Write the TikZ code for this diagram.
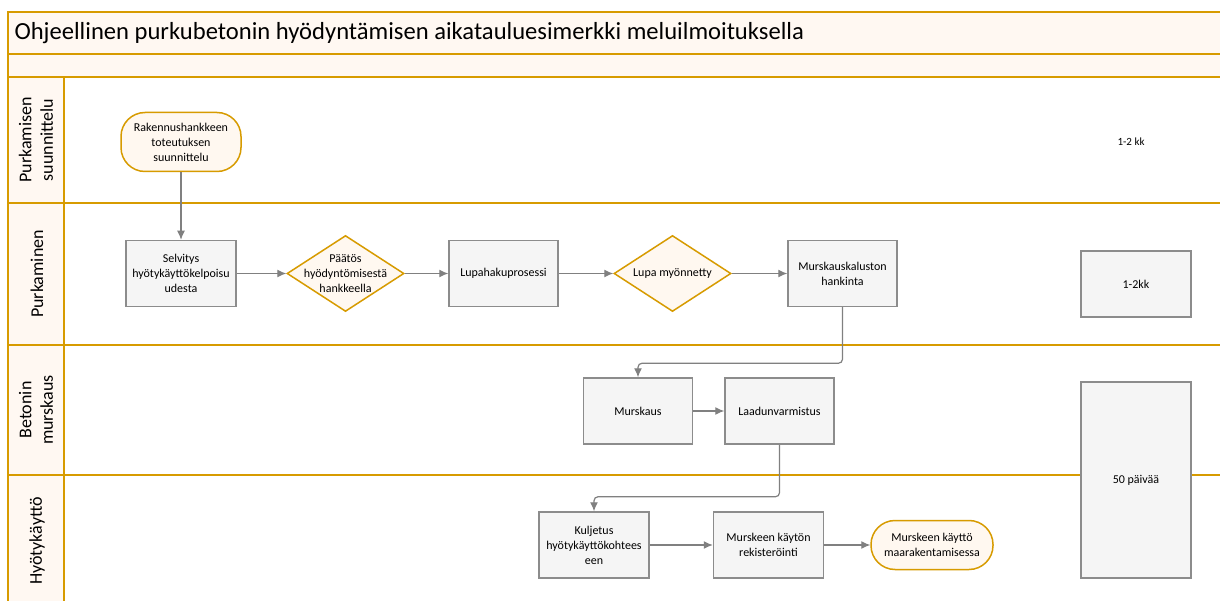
\documentclass[tikz,border=0pt]{standalone}
\usepackage{fontspec}
\setmainfont{Carlito}
\usepackage{tikz}
\usetikzlibrary{shapes.geometric}
\usetikzlibrary{positioning}
\usetikzlibrary{calc}
\usetikzlibrary{arrows.meta}
\definecolor{lanegold}{HTML}{D79B00}
\definecolor{lanefill}{HTML}{FFF8F2}
\definecolor{termfill}{HTML}{FFF8F0}
\definecolor{boxgray}{HTML}{8C8C8C}
\definecolor{boxfill}{HTML}{F5F5F5}
\definecolor{linegray}{HTML}{808080}
\begin{document}
\begin{tikzpicture}
			[
				x = 1pt, y = -1pt,
				mylane/.style = {draw = lanegold, line width = 1.5pt, fill = lanefill},
				mylanelabel/.style = {rotate = 90, align = center, font = \fontsize{18}{21.6}\selectfont},
				myblock/.style = {draw = boxgray, fill = boxfill, rectangle, line width = 1.5pt, minimum height = 66pt, minimum width = 110pt, inner sep = 1pt, align = center, font = \fontsize{12}{15}\selectfont},
				mydecision/.style = {draw = lanegold, fill = termfill, diamond, line width = 1.5pt, minimum height = 76pt, minimum width = 117pt, inner sep = 0pt},
				mydecisiontext/.style = {align = center, font = \fontsize{12}{15}\selectfont},
				myterminal/.style = {draw = lanegold, fill = termfill, rectangle, rounded corners = 24pt, line width = 1.5pt, inner sep = 1pt, align = center, font = \fontsize{12}{15}\selectfont},
				myvariable/.style = {font = \fontsize{11}{13}\selectfont},
				myarrow/.style = {rounded corners = 4pt, -{Latex[length = 9pt, width = 8pt]}, line width = 1.2pt, draw = linegray}
			]
			%
			\useasboundingbox (0,0) rectangle (1220,601);
			\begin{scope}
			\clip (0,0) rectangle (1220,601);
			%
			\draw [mylane] (8,12) rectangle (1240,54);
			\draw [mylane] (8,54) rectangle (1240,77);
			\node (title) [anchor = west, font = \fontsize{24.6}{28}\selectfont] at (11,33) {Ohjeellinen purkubetonin hyödyntämisen aikatauluesimerkki meluilmoituksella};
			%
			\draw [mylane, fill = white] (8,77) rectangle (1240,203);
			\draw [mylane] (8,77) rectangle (64,203);
			\draw [mylane, fill = white] (8,203) rectangle (1240,345);
			\draw [mylane] (8,203) rectangle (64,345);
			\draw [mylane, fill = white] (8,345) rectangle (1240,475);
			\draw [mylane] (8,345) rectangle (64,475);
			\draw [mylane, fill = white] (8,475) rectangle (1240,607);
			\draw [mylane] (8,475) rectangle (64,607);
			%
			\node (lane1) [mylanelabel] at (36,140) {Purkamisen\\suunnittelu};
			\node (lane2) [mylanelabel] at (37,274) {Purkaminen};
			\node (lane3) [mylanelabel] at (36,410) {Betonin\\murskaus};
			\node (lane4) [mylanelabel] at (37,541) {Hyötykäyttö};
			%
			\node (start) [myterminal, minimum width = 120pt, minimum height = 59pt] at (181,142) {Rakennushankkeen\\toteutuksen\\suunnittelu};
			%
			\node (selvitys) [myblock, below = 67.5pt of start] {Selvitys\\hyötykäyttökelpoisu\\udesta};
			\draw [myarrow] (start) -- (selvitys);
			%
			\node (paatos) [mydecision, right = 49.5pt of selvitys, label = {[mydecisiontext]center:Päätös\\hyödyntömisestä\\hankkeella}] {};
			\draw [myarrow] (selvitys) -- (paatos);
			%
			\node (lupahaku) [myblock, minimum width = 109pt, right = 43.5pt of paatos] {Lupahakuprosessi};
			\draw [myarrow] (paatos) -- (lupahaku);
			%
			\node (lupa) [mydecision, right = 54.5pt of lupahaku, label = {[mydecisiontext]center:Lupa myönnetty}] {};
			\draw [myarrow] (lupahaku) -- (lupa);
			%
			\node (kalusto) [myblock, minimum width = 109pt, right = 55.5pt of lupa] {Murskauskaluston\\hankinta};
			\draw [myarrow] (lupa) -- (kalusto);
			%
			\node (murskaus) [myblock, minimum width = 109pt] at (638,411) {Murskaus};
			\draw [myarrow] (kalusto.south) -- ++(0,56) -| (murskaus.north);
			%
			\node (laadun) [myblock, minimum width = 109pt, right = 31pt of murskaus] {Laadunvarmistus};
			\draw [myarrow] (murskaus) -- (laadun);
			%
			\node (kuljetus) [myblock] at (594,545) {Kuljetus\\hyötykäyttökohtees\\een};
			\draw [myarrow] (laadun.south) -- ++(0,52) -| (kuljetus.north);
			%
			\node (rekisteri) [myblock, right = 63pt of kuljetus] {Murskeen käytön\\rekisteröinti};
			\draw [myarrow] (kuljetus) -- (rekisteri);
			%
			\node (loppu) [myterminal, minimum width = 122pt, minimum height = 49pt, right = 46pt of rekisteri] {Murskeen käyttö\\maarakentamisessa};
			\draw [myarrow] (rekisteri) -- (loppu);
			%
			\node (kk1) [myvariable] at (1131,142) {1-2 kk};
			\node (kk2) [myblock] at (1136,284) {1-2kk};
			\node (paivaa) [myblock, minimum height = 196pt] at (1136,480) {50 päivää};
			%
			\end{scope}
		\end{tikzpicture}
\end{document}
